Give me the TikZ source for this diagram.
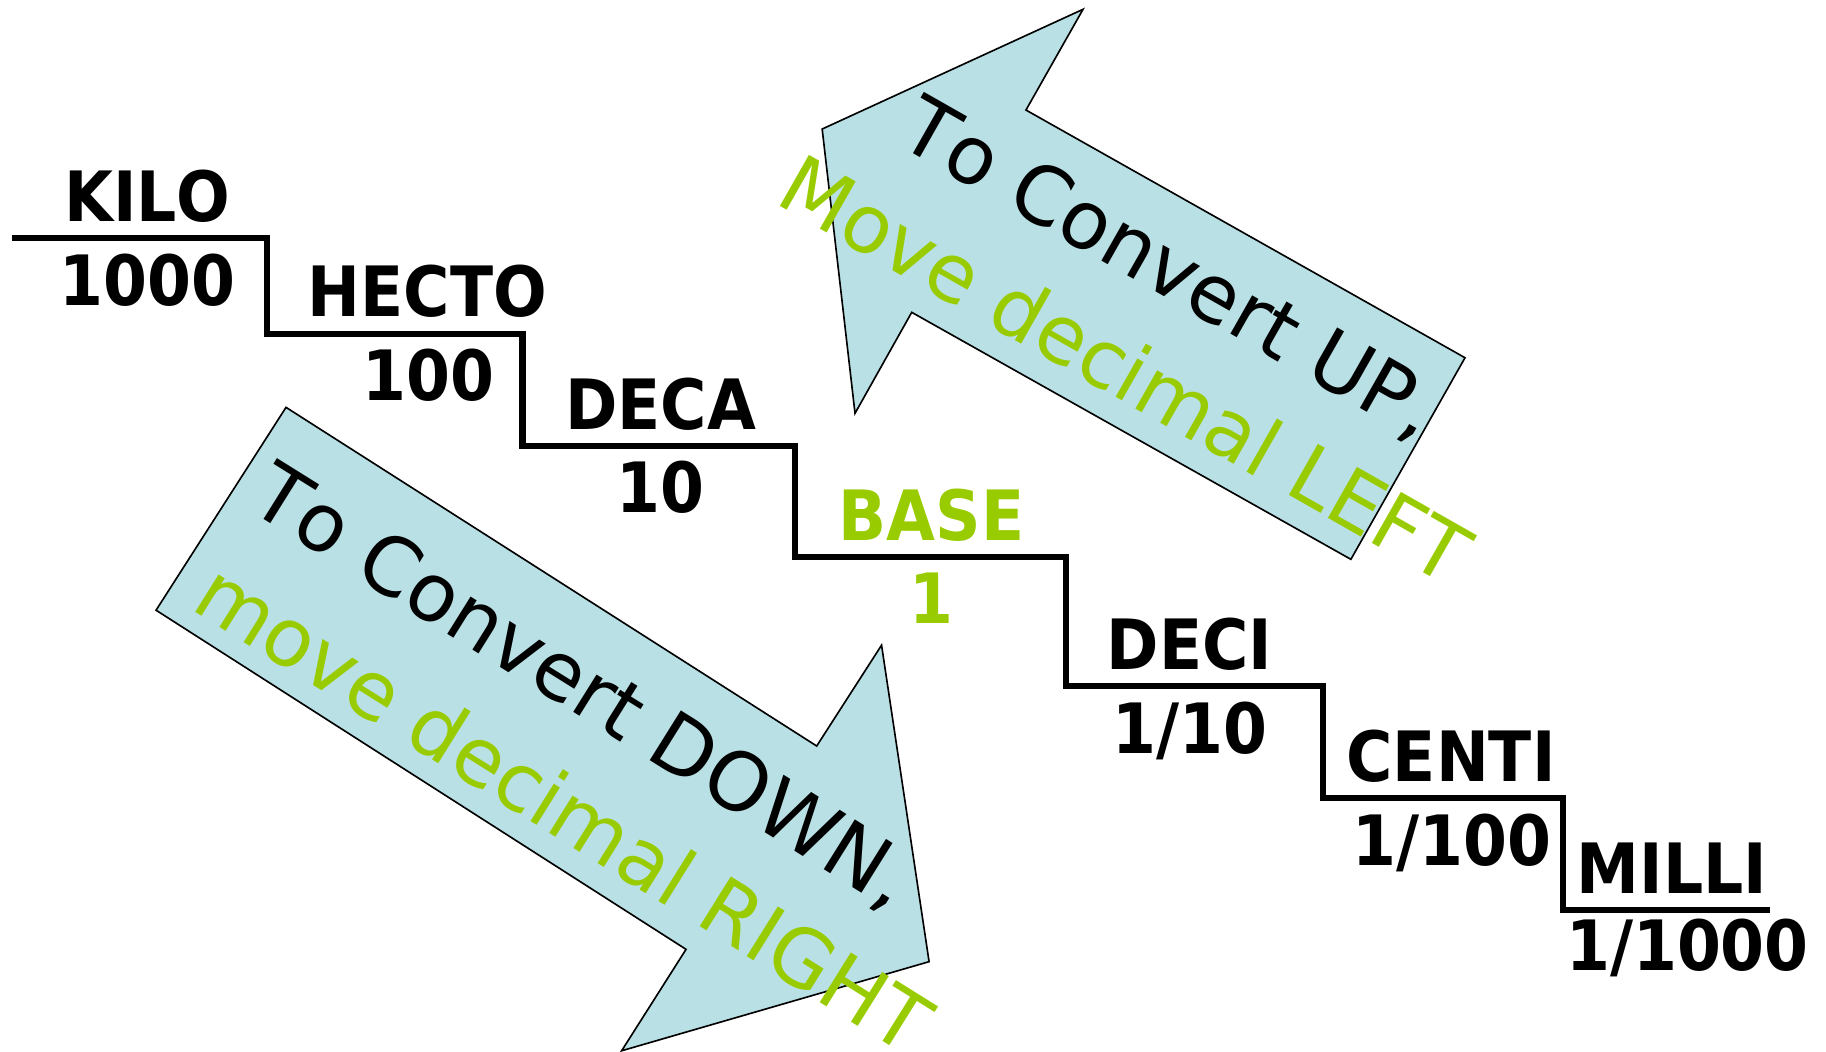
\documentclass[tikz,border=0pt]{standalone}
\usepackage{fontspec}
\setmainfont{DejaVu Sans}[Kerning=Off]
\newfontfamily\lblfont{DejaVu Sans}[FakeStretch=0.91,Kerning=Off]
\definecolor{arrowfill}{RGB}{185,224,228}
\definecolor{lgreen}{RGB}{153,204,0}
\tikzset{
  lbl/.style={font=\lblfont\bfseries\fontsize{29.8}{36}\selectfont, inner sep=0pt, anchor=base},
  arrtxt/.style={font=\fontsize{34.6}{40}\selectfont, inner sep=0pt, anchor=base west},
  blockarrow/.style={fill=arrowfill, draw=black, line width=0.7pt, line join=miter},
  stair/.style={draw=black, line width=2.7pt, line join=miter, line cap=butt}
}
\begin{document}
\begin{tikzpicture}[x=0.5pt,y=-0.5pt]
\useasboundingbox (0,0) rectangle (1568,903);
% up arrow
\path[blockarrow] (706,110.8) -- (930,8) -- (881,94.5) -- (1258,307.2) -- (1160,480.3) -- (782.9,268.2) -- (734.2,354.9) -- cycle;
\begin{scope}
\clip (706,110.8) -- (930,8) -- (881,94.5) -- (1258,307.2) -- (1160,480.3) -- (782.9,268.2) -- (734.2,354.9) -- cycle;
\node[arrtxt, rotate=-29.6] (up1) at (768.5,123.4) {To Convert UP,};
\end{scope}
\node[arrtxt, rotate=-29.6, text=lgreen] (up2) at (663.9,174.1) {Move decimal LEFT};
% down arrow
\path[blockarrow] (245.6,349.8) -- (701.3,640.6) -- (757,554) -- (797.8,825.8) -- (533.8,902.3) -- (589.1,815.2) -- (134,524) -- cycle;
\node[arrtxt, rotate=-32] (dn1) at (211.5,436.4) {To Convert DOWN,};
\node[arrtxt, rotate=-32, text=lgreen] (dn2) at (162.2,522) {move decimal RIGHT};
% staircase
\coordinate (s0) at (9.9,204.1);
\coordinate (s1) at (229,204.1);
\coordinate (s2) at (229,287);
\coordinate (s3) at (448.6,287);
\coordinate (s4) at (448.6,382.7);
\coordinate (s5) at (682.4,382.7);
\coordinate (s6) at (682.4,478.6);
\coordinate (s7) at (915.5,478.6);
\coordinate (s8) at (915.5,588.8);
\coordinate (s9) at (1135.8,588.8);
\coordinate (s10) at (1135.8,685);
\coordinate (s11) at (1342,685);
\coordinate (s12) at (1342,781.4);
\coordinate (s13) at (1520.2,781.4);
\draw[stair] (s0) -- (s1) -- (s2) -- (s3) -- (s4) -- (s5) -- (s6) -- (s7) -- (s8) -- (s9) -- (s10) -- (s11) -- (s12) -- (s13);
% labels
\node[lbl] (kilo) at (126.5,190.4) {KILO};
\node[lbl] (kilov) at (126.5,262) {1000};
\node[lbl] (hecto) at (367,272) {HECTO};
\node[lbl] (hectov) at (368,343.5) {100};
\node[lbl] (deca) at (567.3,368.4) {DECA};
\node[lbl] (decav) at (567.4,440) {10};
\node[lbl, text=lgreen] (base) at (800,464.3) {BASE};
\node[lbl, text=lgreen] (basev) at (800,535.3) {1};
\node[lbl] (deci) at (1021.5,574.5) {DECI};
\node[lbl] (deciv) at (1021.5,647) {1/10};
\node[lbl] (centi) at (1246,671) {CENTI};
\node[lbl] (centiv) at (1246.5,743) {1/100};
\node[lbl] (milli) at (1435.6,767) {MILLI};
\node[lbl] (milliv) at (1449,833) {1/1000};
\end{tikzpicture}
\end{document}
